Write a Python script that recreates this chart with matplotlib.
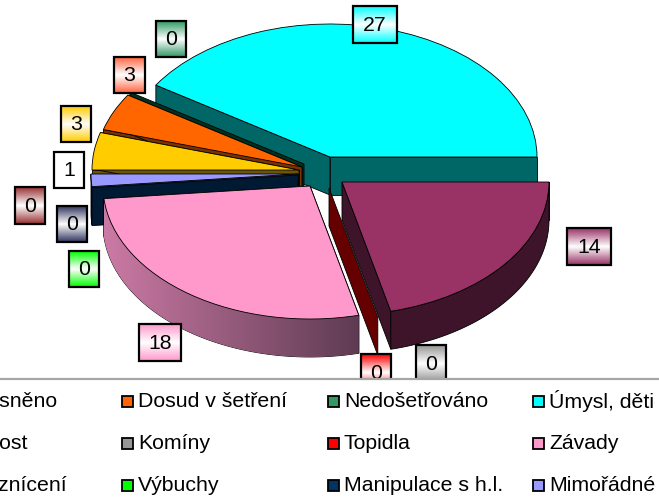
import numpy as np
import matplotlib
matplotlib.use("Agg")
import matplotlib.pyplot as plt
from matplotlib.patches import Wedge, Polygon, Rectangle
from matplotlib.transforms import Affine2D
from matplotlib.colors import LinearSegmentedColormap

plt.rcParams['font.family'] = ['Liberation Sans', 'DejaVu Sans']

# Data: clockwise from the 9 o'clock position
categories = ["Neobjasněno", "Dosud v šetření", "Nedošetřováno", "Úmysl, děti",
              "Nedbalost", "Komíny", "Topidla", "Závady",
              "Samovznícení", "Výbuchy", "Manipulace s h.l.", "Mimořádné"]
values = [3, 3, 0, 27, 14, 0, 0, 18, 0, 0, 0, 1]

# Styles
top_colors = ["#FFCC00", "#FF6600", "#339966", "#00FFFF",
              "#993366", "#969696", "#FF0000", "#FF99CC",
              "#993333", "#00FF00", "#003366", "#9999FF"]
wall_colors = ["#6B5500", "#7A3300", "#00301F", "#006666",
               "#3D142A", "#444444", "#660000", "#66405A",
               "#401010", "#006600", "#001A33", "#3D3D66"]
label_colors = ["#FFCC00", "#FF6644", "#339966", "#00FFFF",
                "#993366", "#969696", "#FF0000", "#FF99CC",
                "#993333", "#00FF00", "#33385F", "#FFFFFF"]
centres = [(299, 170), (302, 167), (304, 164), (330, 157),
           (342, 182), (336, 185), (329, 188), (310, 186),
           (298, 176), (298, 176), (298, 175), (298, 174)]
label_boxes = [(61, 106, 30, 36), (114, 57, 31, 36), (156, 21, 30, 36), (353, 6, 44, 37),
               (567, 228, 44, 37), (416, 345, 30, 37), (361, 354, 30, 37), (139, 324, 42, 37),
               (15, 187, 30, 37), (69, 251, 30, 36), (57, 206, 30, 36), (54, 152, 30, 36)]
RX, RY, DEPTH = 207, 133, 38
START = 180.0

fig = plt.figure(figsize=(6.59, 4.98), dpi=100)
ax = fig.add_axes([0, 0, 1, 1])
ax.set_xlim(0, 659)
ax.set_ylim(498, 0)
ax.axis("off")


def pt(c, a, dy=0):
    r = np.radians(a)
    return (c[0] + RX * np.cos(r), c[1] - RY * np.sin(r) + dy)


def cut_wall(c, a, color, z):
    p = [c, pt(c, a), pt(c, a, DEPTH), (c[0], c[1] + DEPTH)]
    ax.add_patch(Polygon(p, closed=True, fc=color, ec="black", lw=0.6, zorder=z))


def outer_wall_poly(c, a1, a2):
    t = np.linspace(a1, a2, 80)
    up = [pt(c, x) for x in t]
    down = [pt(c, x, DEPTH) for x in t[::-1]]
    return up + down


# angles: running clockwise
fracs = np.array(values, float) / sum(values) * 360
ends = START - np.cumsum(fracs)
starts = np.concatenate([[START], ends[:-1]])

draw_order = [3, 2, 1, 0, 11, 10, 7, 6, 4]
z = 2
for i in draw_order:
    c, a1, a2 = centres[i], starts[i], ends[i]
    top, wall = top_colors[i], wall_colors[i]
    z += 1
    cut_wall(c, a1, wall, z)      # leading cut face
    if values[i] > 0:
        cut_wall(c, a2, wall, z)  # trailing cut face
        # the rim only shows on the front half of the disc
        if np.sin(np.radians(a1)) < 0 or np.sin(np.radians(a2)) < 0:
            if a2 % 360 >= 180 or a1 % 360 >= 180:
                poly = Polygon(outer_wall_poly(c, a1, a2), closed=True, fc=wall,
                               ec="black", lw=0.6, zorder=z)
                ax.add_patch(poly)
                if categories[i] == "Závady":
                    poly.set_facecolor("none")
                    grad = LinearSegmentedColormap.from_list("g", ["#CC7AA5", "#5E3B52"])
                    xs = np.linspace(0, 1, 256).reshape(1, -1)
                    px = pt(c, a2)[0], pt(c, a1)[0]
                    im = ax.imshow(xs, extent=(px[0], px[1], 380, 190), cmap=grad,
                                   aspect="auto", zorder=z)
                    im.set_clip_path(poly)
        ax.add_patch(Wedge((0, 0), 1, a2, a1, fc=top, ec="black", lw=0.6, zorder=z + 0.5,
                           transform=Affine2D().scale(RX, -RY).translate(*c) + ax.transData))

# Data labels
for val, col, (x, y, w, h) in zip(values, label_colors, label_boxes):
    cmap = LinearSegmentedColormap.from_list("l", [col, "#FFFFFF", col])
    g = np.linspace(0, 1, 64).reshape(-1, 1)
    ax.imshow(g, extent=(x, x + w, y + h, y), cmap=cmap, aspect="auto", zorder=30)
    ax.add_patch(Rectangle((x, y), w, h, fc="none", ec="black", lw=1.6, zorder=31))
    ax.text(x + w / 2, y + h / 2 + 0.5, str(val), ha="center", va="center",
            fontsize=15.3, color="black", zorder=32)

# Legend (extends past the left edge, as in the source)
ax.add_patch(Rectangle((0, 379), 659, 119, fc="white", ec="none", zorder=40))
ax.plot([0, 659], [379, 379], color="#A6A6A6", lw=1.6, zorder=41, solid_capstyle="butt")
xcols = [-68, 138, 344, 549]
yrows = [401, 443, 485]
for i, (name, col) in enumerate(zip(categories, top_colors)):
    r, k = divmod(i, 4)
    tx, ty = xcols[k], yrows[r]
    ax.add_patch(Rectangle((tx - 16.5, ty - 5.5), 11, 11, fc=col, ec="black", lw=1.3,
                           zorder=42, clip_on=False))
    ax.text(tx, ty, name, ha="left", va="center", fontsize=15.3, color="black",
            zorder=42, clip_on=True)
ax.set_xlim(0, 659)
ax.set_ylim(498, 0)
fig.savefig("out.png", dpi=100)
